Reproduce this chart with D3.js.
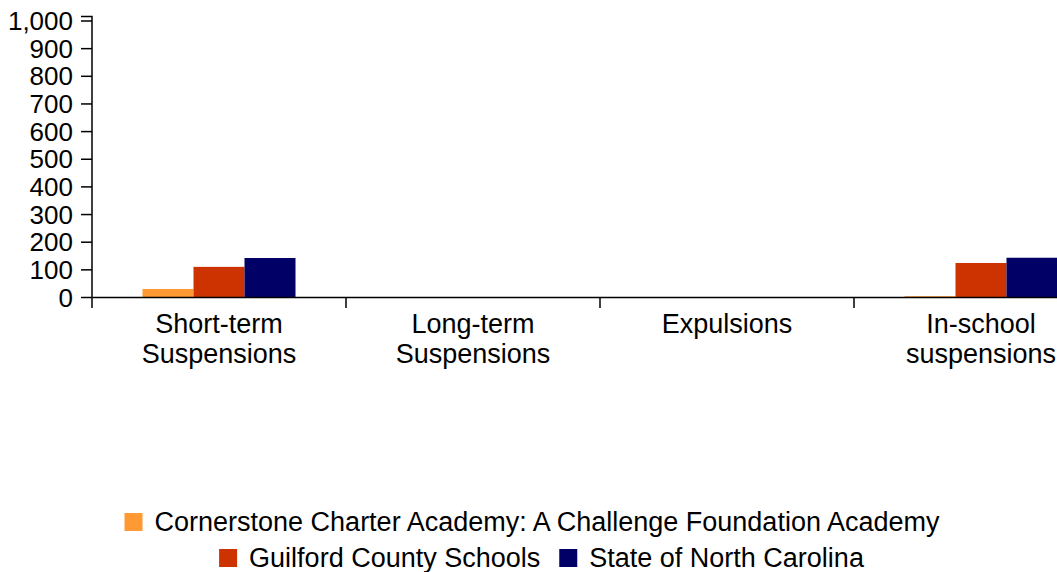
<!DOCTYPE html>
<html><head><meta charset="utf-8">
<script src="https://cdn.jsdelivr.net/npm/d3@7"></script>
<style>
html,body{margin:0;padding:0;background:#fff;overflow:hidden;}
text{font-family:"Liberation Sans",Arial,sans-serif;fill:#000;}
</style></head>
<body>
<svg id="c" width="1057" height="572"></svg>
<script>
const categories = [["Short-term","Suspensions"],["Long-term","Suspensions"],["Expulsions"],["In-school","suspensions"]];
const seriesNames = ["Cornerstone Charter Academy: A Challenge Foundation Academy","Guilford County Schools","State of North Carolina"];
const seriesColors = ["#FF9933","#CC3300","#000066"];
const cornerstone = [29, 0, 0, 3];
const guilford = [109, 0, 0, 123];
const northCarolina = [141, 0, 0, 142];
const yTicks = [0,100,200,300,400,500,600,700,800,900,1000];

const values = [cornerstone, guilford, northCarolina];
const svg = d3.select("#c");
const fsTick = 26;
const fs = 27;

const x0 = d3.scaleBand().domain(d3.range(categories.length)).range([92, 92 + 4*254]).paddingInner(0).paddingOuter(0);
const x1 = d3.scaleBand().domain(d3.range(seriesNames.length)).range([0, 153]);
const y = d3.scaleLinear().domain([0,1000]).range([297, 20.5]);

// bars
const groupOffset = (x0.bandwidth() - 153)/2;
categories.forEach((c, ci) => {
  values.forEach((s, si) => {
    const v = s[ci];
    if (v <= 0) return;
    svg.append("rect")
      .attr("x", x0(ci) + groupOffset + x1(si))
      .attr("y", y(v))
      .attr("width", x1.bandwidth())
      .attr("height", y(0) - y(v))
      .attr("fill", seriesColors[si]);
  });
});

// y axis
const yAxis = d3.axisLeft(y).tickValues(yTicks).tickSize(11).tickPadding(8).tickFormat(d3.format(","));
const gy = svg.append("g").attr("transform","translate(92,0)").call(yAxis);
gy.selectAll("text").style("font-size", fsTick+"px").attr("dy","0.35em");
gy.selectAll("line, path").attr("stroke","#000").attr("stroke-width",1.5);
gy.select(".domain").attr("d","M-11,16.5H0V297");

// x axis
const xAxis = d3.axisBottom(x0).tickValues([]).tickSizeOuter(0);
const gx = svg.append("g").attr("transform","translate(0,297)").call(xAxis);
gx.select(".domain").attr("stroke","#000").attr("stroke-width",1.5);
d3.range(categories.length+1).forEach(i => {
  const xp = i < categories.length ? x0(i) : x0(categories.length-1) + x0.bandwidth();
  gx.append("line").attr("x1", xp).attr("x2", xp).attr("y1",0).attr("y2",11)
    .attr("stroke","#000").attr("stroke-width",1.5);
});
// category labels
categories.forEach((lines, ci) => {
  const cx = x0(ci) + x0.bandwidth()/2;
  const t = svg.append("text").attr("text-anchor","middle").style("font-size", fs+"px");
  lines.forEach((ln, li) => {
    t.append("tspan").attr("x", cx).attr("y", 333 + li*30).text(ln);
  });
});

// legend
const legendRows = [[0],[1,2]];
const rowY = [522, 558];
const rowCenter = [532, 541.5];
legendRows.forEach((row, ri) => {
  const g = svg.append("g");
  let cx = 0;
  row.forEach((si) => {
    g.append("rect").attr("x", cx).attr("y", rowY[ri]-9).attr("width",18).attr("height",18).attr("fill", seriesColors[si]);
    const t = g.append("text").attr("x", cx + 30).attr("y", rowY[ri]).attr("dy","0.35em")
      .style("font-size", fs+"px").text(seriesNames[si]);
    const w = t.node().getComputedTextLength();
    cx += 30 + w + 19;
  });
  const total = cx - 19;
  g.attr("transform", `translate(${rowCenter[ri] - total/2},0)`);
});
</script>
</body></html>
